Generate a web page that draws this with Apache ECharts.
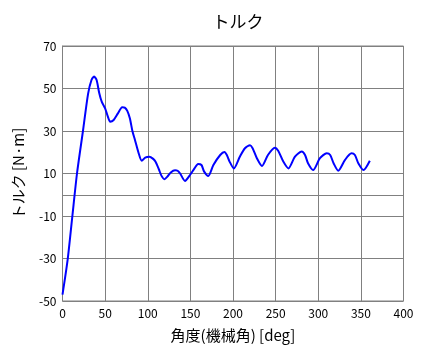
<!DOCTYPE html>
<html><head><meta charset="utf-8">
<script src="https://cdn.jsdelivr.net/npm/echarts@6/dist/echarts.min.js"></script>
<style>html,body{margin:0;padding:0;background:#fff}#c{width:421px;height:361px}</style>
</head><body><div id="c"></div>
<script>
const angles = [0,6,11.5,17,24,30,34,37,40,43,46,50,53,56,60,65,70,73,76,79,82,85,89,93,97,102,106,109,113,116,119.5,123,127,132,135,138,143.7,149.6,155,159,163,166,171,177,185,190,193,196,201,208,214,220,223,228,234,241,249,253,259,265,272.7,280.6,284.5,288,294,302,310,314,318,323.5,331.4,339,343,347,353,360.5];
const torque = [-47,-30.7,-10.3,10,30,47.5,54,55.6,54,48,43.8,40.7,37,34.4,35.2,38.3,41.2,41,39.5,36,30,25.8,20,16,17.5,17.9,17,15.6,12,9,7.3,8.5,10.5,11.5,11.3,10,6.5,9.3,12.5,14.5,14,11,8.8,14,18.7,20.1,18.5,15.6,12.4,17.9,21.9,23.3,21.9,17.2,13.5,18.7,22.1,20.7,15.6,12.4,17.9,20.3,18.7,14.8,11.6,17.2,19.5,18.7,14.8,11.3,16.4,19.5,18.7,14.8,11.6,16];
const titleText = 'トルク';
const xName = '角度(機械角) [deg]';
const yName = 'トルク [N·m]';

const font = '"Noto Sans CJK JP", "DejaVu Sans", sans-serif';
const chart = echarts.init(document.getElementById('c'));
chart.setOption({
  backgroundColor: '#ffffff',
  animation: false,
  title: { text: titleText, left: 233, top: 8, textAlign: 'center',
    textStyle: { fontFamily: font, fontSize: 17, fontWeight: 'normal', color: '#000' } },
  grid: { left: 62.5, right: 17.5, top: 46, bottom: 60, show: true, borderColor: '#808080', borderWidth: 1 },
  xAxis: { type: 'value', min: 0, max: 400, interval: 50,
    name: xName, nameLocation: 'middle', nameGap: 27,
    nameTextStyle: { fontFamily: font, fontSize: 15, color: '#000' },
    axisLine: { show: true, lineStyle: { color: '#808080' } }, axisTick: { show: false },
    axisLabel: { fontFamily: font, fontSize: 12, color: '#000', margin: 6 },
    splitLine: { show: true, lineStyle: { color: '#808080', width: 1 } } },
  yAxis: { type: 'value', min: -50, max: 70, interval: 20,
    name: yName, nameLocation: 'middle', nameGap: 37, nameRotate: 90,
    nameTextStyle: { fontFamily: font, fontSize: 15, color: '#000' },
    axisLine: { show: true, lineStyle: { color: '#808080' } }, axisTick: { show: false },
    axisLabel: { fontFamily: font, fontSize: 12, color: '#000', margin: 6 },
    splitLine: { show: true, lineStyle: { color: '#808080', width: 1 } } },
  series: [{ type: 'line', data: angles.map((a, i) => [a, torque[i]]), smooth: 0.25,
    showSymbol: false, lineStyle: { color: '#0000ff', width: 2 } }]
});
</script></body></html>
